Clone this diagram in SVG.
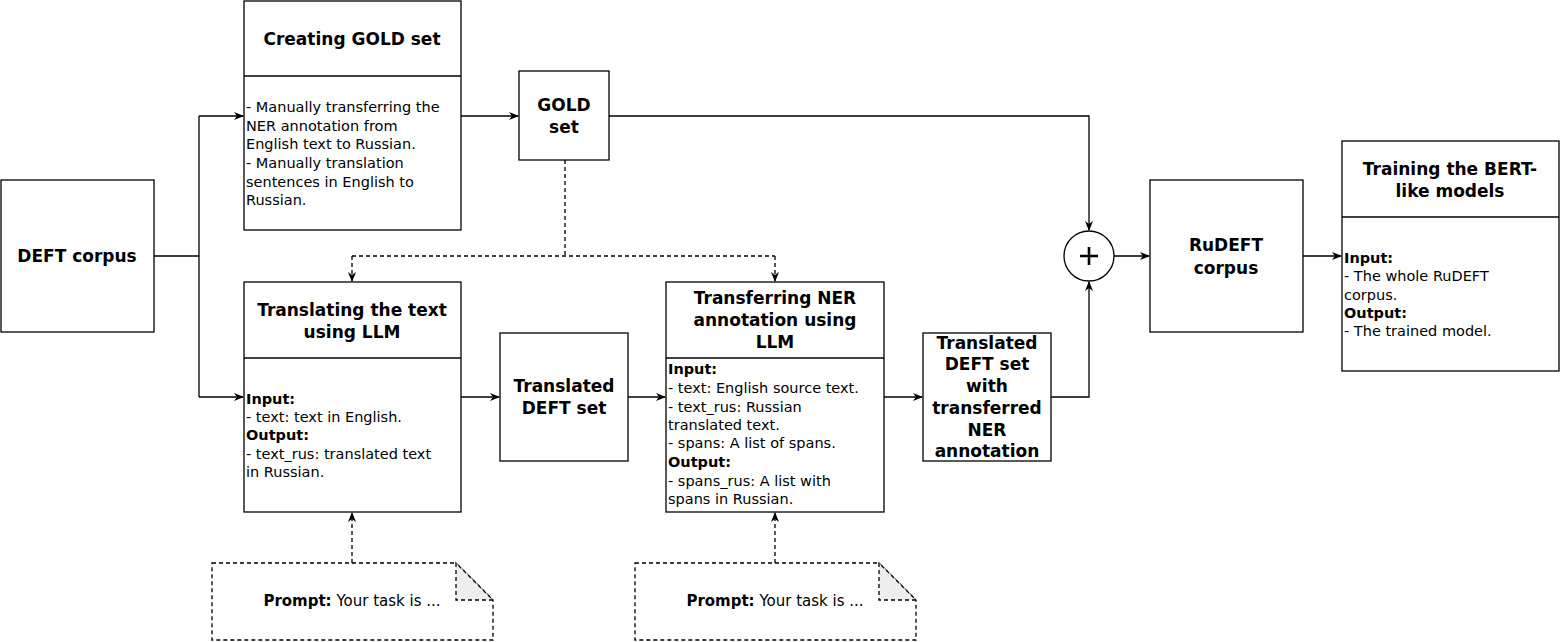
<svg xmlns="http://www.w3.org/2000/svg" width="1560" height="642" viewBox="0 0 1560 642">
<style>
.b{fill:#fff;stroke:#000;stroke-width:1.3}
.l{fill:none;stroke:#000;stroke-width:1.3}
.d{fill:none;stroke:#000;stroke-width:1.3;stroke-dasharray:4 3}
text{font-family:"DejaVu Sans",Verdana,sans-serif;fill:#000}
.t{font-size:17px;font-weight:bold;text-anchor:middle}
.s{font-size:14.5px}
.c{text-anchor:middle;font-size:15px}
</style>
<defs><marker id="a" viewBox="0 0 10 10" refX="9" refY="5" markerWidth="10" markerHeight="10" orient="auto" markerUnits="userSpaceOnUse"><path d="M0,1 L10,5 L0,9 L3,5 Z" fill="#000"/></marker></defs>
<rect width="1560" height="642" fill="#fff"/>
<g id="connectors">
<path class="l" d="M154,256H199M199,116V397"/>
<path class="l" d="M199,116H243" marker-end="url(#a)"/>
<path class="l" d="M199,397H243" marker-end="url(#a)"/>
<path class="l" d="M461,116H518" marker-end="url(#a)"/>
<path class="l" d="M609,116H1089V230" marker-end="url(#a)"/>
<path class="d" d="M565,160V256M352,256H775"/>
<path class="d" d="M352,256V281" marker-end="url(#a)"/>
<path class="d" d="M775,256V281" marker-end="url(#a)"/>
<path class="l" d="M461,397H499" marker-end="url(#a)"/>
<path class="l" d="M628,397H665" marker-end="url(#a)"/>
<path class="l" d="M884,397H922" marker-end="url(#a)"/>
<path class="l" d="M1051,397H1089V282" marker-end="url(#a)"/>
<path class="l" d="M1114,256H1149" marker-end="url(#a)"/>
<path class="l" d="M1303,256H1341" marker-end="url(#a)"/>
<path class="d" d="M352,563V513" marker-end="url(#a)"/>
<path class="d" d="M775,563V513" marker-end="url(#a)"/>
</g>
<g id="deft"><rect class="b" x="1" y="180" width="153" height="152"/><text class="t" x="77" y="262">DEFT corpus</text></g>
<g id="gold-create"><rect class="b" x="244" y="1" width="217" height="229"/><path class="l" d="M244,76H461"/>
<text class="t" x="352" y="45">Creating GOLD set</text>
<text class="s" x="246"><tspan x="246" y="112">- Manually transferring the</tspan><tspan x="246" y="131">NER annotation from</tspan><tspan x="246" y="149">English text to Russian.</tspan><tspan x="246" y="168">- Manually translation</tspan><tspan x="246" y="187">sentences in English to</tspan><tspan x="246" y="205">Russian.</tspan></text></g>
<g id="gold"><rect class="b" x="519" y="71" width="90" height="89"/><text class="t"><tspan x="564" y="111">GOLD</tspan><tspan x="564" y="133">set</tspan></text></g>
<g id="translate"><rect class="b" x="244" y="282" width="217" height="230"/><path class="l" d="M244,358H461"/>
<text class="t"><tspan x="352" y="316">Translating the text</tspan><tspan x="352" y="338">using LLM</tspan></text>
<text class="s"><tspan x="246" y="404" font-weight="bold">Input:</tspan><tspan x="246" y="422">- text: text in English.</tspan><tspan x="246" y="440" font-weight="bold">Output:</tspan><tspan x="246" y="459">- text_rus: translated text</tspan><tspan x="246" y="477">in Russian.</tspan></text></g>
<g id="tdeft"><rect class="b" x="500" y="333" width="128" height="128"/><text class="t"><tspan x="564" y="392">Translated</tspan><tspan x="564" y="414">DEFT set</tspan></text></g>
<g id="transfer"><rect class="b" x="666" y="282" width="218" height="230"/><path class="l" d="M666,358H884"/>
<text class="t"><tspan x="775" y="304">Transferring NER</tspan><tspan x="775" y="326">annotation using</tspan><tspan x="775" y="348">LLM</tspan></text>
<text class="s"><tspan x="668" y="374" font-weight="bold">Input:</tspan><tspan x="668" y="393">- text: English source text.</tspan><tspan x="668" y="412">- text_rus: Russian</tspan><tspan x="668" y="430">translated text.</tspan><tspan x="668" y="448">- spans: A list of spans.</tspan><tspan x="668" y="467" font-weight="bold">Output:</tspan><tspan x="668" y="486">- spans_rus: A list with</tspan><tspan x="668" y="504">spans in Russian.</tspan></text></g>
<g id="tner"><rect class="b" x="923" y="333" width="128" height="128"/><text class="t"><tspan x="987" y="349">Translated</tspan><tspan x="987" y="370">DEFT set</tspan><tspan x="987" y="392">with</tspan><tspan x="987" y="414">transferred</tspan><tspan x="987" y="436">NER</tspan><tspan x="987" y="457">annotation</tspan></text></g>
<g id="plus"><circle class="b" cx="1089" cy="256" r="25"/><path d="M1080,256H1098M1089,247V265" style="fill:none;stroke:#000;stroke-width:2.6"/></g>
<g id="rudeft"><rect class="b" x="1150" y="180" width="153" height="152"/><text class="t"><tspan x="1226" y="251">RuDEFT</tspan><tspan x="1226" y="274">corpus</tspan></text></g>
<g id="train"><rect class="b" x="1342" y="141" width="217" height="230"/><path class="l" d="M1342,217H1559"/>
<text class="t"><tspan x="1450" y="175">Training the BERT-</tspan><tspan x="1450" y="197">like models</tspan></text>
<text class="s"><tspan x="1344" y="263" font-weight="bold">Input:</tspan><tspan x="1344" y="281">- The whole RuDEFT</tspan><tspan x="1344" y="300">corpus.</tspan><tspan x="1344" y="318" font-weight="bold">Output:</tspan><tspan x="1344" y="336">- The trained model.</tspan></text></g>
<g id="prompt1"><path class="d" d="M212,563H456L493,600V640H212Z" fill="#fff"/><path class="d" d="M456,563V600H493Z" style="fill:#eee"/>
<text class="c" x="352" y="606"><tspan font-weight="bold">Prompt:</tspan> Your task is ...</text></g>
<g id="prompt2"><path class="d" d="M635,563H879L916,600V640H635Z" fill="#fff"/><path class="d" d="M879,563V600H916Z" style="fill:#eee"/>
<text class="c" x="775" y="606"><tspan font-weight="bold">Prompt:</tspan> Your task is ...</text></g>
</svg>
